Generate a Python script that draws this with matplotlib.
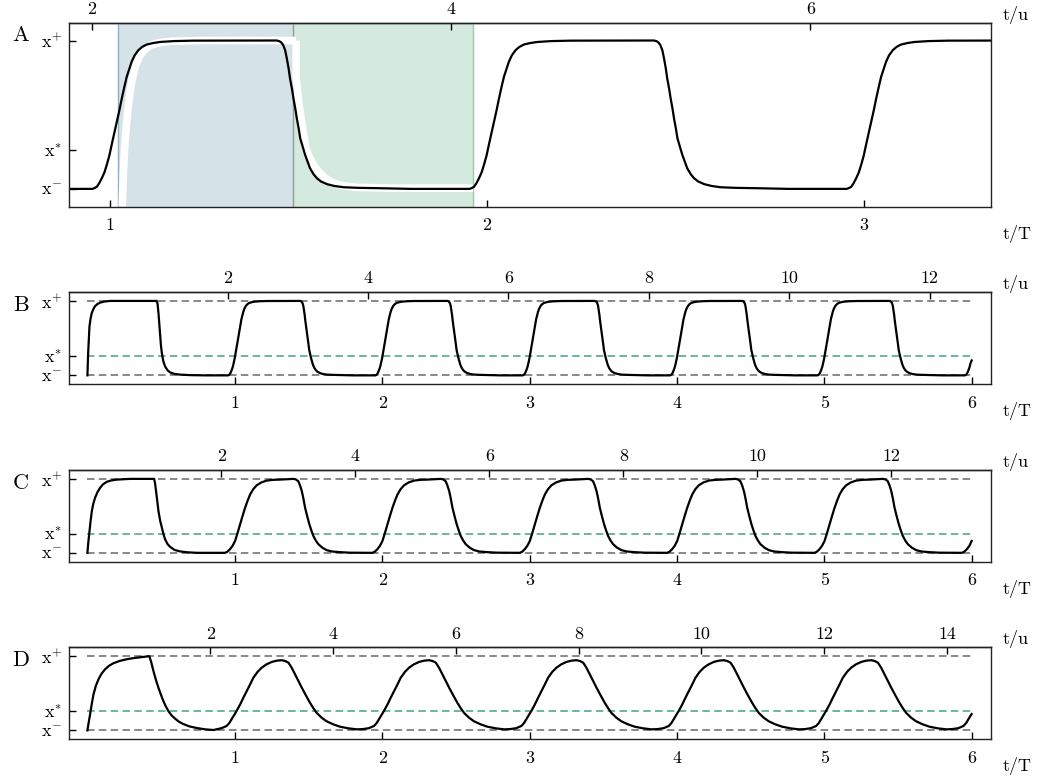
import numpy as np
import matplotlib.pyplot as plt

plt.rcParams['font.family'] = 'serif'
plt.rcParams['font.serif'] = ['cmr10']
plt.rcParams['mathtext.fontset'] = 'cm'
plt.rcParams['axes.unicode_minus'] = False
plt.rcParams['axes.formatter.use_mathtext'] = True
plt.rcParams['font.size'] = 13

# levels scaled so that x- = 0 and x+ = 1
levels = [0.0, 0.26, 1.0]
level_labels = [r'$\mathrm{x}^{-}$', r'$\mathrm{x}^{*}$', r'$\mathrm{x}^{+}$']

# period T in units of u (A is a close-up of the B run)
period_u = {'A': 2.1, 'B': 2.1, 'C': 2.2, 'D': 2.4}
u_ticks = {'A': [2, 4, 6], 'B': [2, 4, 6, 8, 10, 12],
           'C': [2, 4, 6, 8, 10, 12], 'D': [2, 4, 6, 8, 10, 12, 14]}
n_cycles = 5

# ---- run B: first period, one settled period (phase in t/T), end piece
t_B0 = [0.0, 0.005, 0.014, 0.022, 0.030, 0.040, 0.052, 0.068, 0.086, 0.115,
        0.154, 0.30, 0.470, 0.476, 0.482, 0.488, 0.493, 0.499, 0.505, 0.515,
        0.527, 0.543, 0.561, 0.59, 0.629, 0.70, 0.80]
x_B0 = [0.0, 0.30, 0.66, 0.77, 0.84, 0.89, 0.93, 0.958, 0.977, 0.992,
        1.0, 1.0, 1.0, 0.96, 0.84, 0.68, 0.53, 0.40, 0.30, 0.19,
        0.12, 0.07, 0.04, 0.02, 0.01, 0.003, 0.0]
ph_B = [-0.10, -0.046, -0.040, -0.034, -0.028, -0.021, -0.014, -0.008, -0.001,
        0.005, 0.012, 0.019, 0.026, 0.032, 0.039, 0.045, 0.052, 0.058, 0.066,
        0.076, 0.086, 0.098, 0.115, 0.133, 0.17, 0.222, 0.35, 0.443, 0.450,
        0.455, 0.460, 0.465, 0.4695, 0.474, 0.478, 0.483, 0.487, 0.492, 0.496,
        0.501, 0.505, 0.512, 0.518, 0.525, 0.531, 0.540, 0.549, 0.560, 0.576,
        0.595, 0.62, 0.66, 0.708, 0.80]
x_B = [0.0, 0.0, 0.006, 0.015, 0.038, 0.072, 0.112, 0.161, 0.225,
       0.296, 0.375, 0.453, 0.535, 0.61, 0.69, 0.755, 0.81, 0.856, 0.90,
       0.935, 0.957, 0.973, 0.983, 0.99, 0.996, 0.999, 1.0, 1.0, 0.995,
       0.986, 0.968, 0.935, 0.879, 0.815, 0.744, 0.675, 0.61, 0.54, 0.475,
       0.405, 0.341, 0.28, 0.229, 0.18, 0.139, 0.10, 0.072, 0.05, 0.032,
       0.02, 0.011, 0.007, 0.005, 0.0]
t_B1 = [5.90, 5.954, 5.960, 5.966, 5.972, 5.979, 5.986, 5.992, 6.0]
x_B1 = [0.0, 0.0, 0.006, 0.015, 0.038, 0.072, 0.112, 0.161, 0.20]

# ---- run C
t_C0 = [0.0, 0.006, 0.014, 0.022, 0.030, 0.040, 0.052, 0.068, 0.086, 0.105,
        0.131, 0.16, 0.20, 0.29, 0.4526, 0.459, 0.466, 0.474, 0.482, 0.493,
        0.505, 0.515, 0.527, 0.543, 0.561, 0.59, 0.629, 0.68, 0.742]
x_C0 = [0.0, 0.14, 0.296, 0.44, 0.565, 0.665, 0.745, 0.82, 0.879, 0.925,
        0.96, 0.978, 0.99, 1.0, 1.0, 0.94, 0.833, 0.70, 0.565, 0.44,
        0.341, 0.26, 0.184, 0.12, 0.081, 0.04, 0.019, 0.007, 0.0]
ph_C = [-0.128, -0.066, -0.05, -0.032, -0.015, 0.002, 0.019, 0.036, 0.053,
        0.070, 0.087, 0.104, 0.125, 0.149, 0.18, 0.217, 0.26, 0.307, 0.36,
        0.398, 0.415, 0.431, 0.443, 0.455, 0.466, 0.477, 0.492, 0.506, 0.52,
        0.533, 0.55, 0.567, 0.594, 0.624, 0.66, 0.714, 0.78]
x_C = [0.0, 0.0, 0.015, 0.05, 0.095, 0.16, 0.27, 0.386, 0.50,
       0.61, 0.705, 0.789, 0.86, 0.914, 0.952, 0.977, 0.987, 0.99, 0.995,
       1.0, 0.992, 0.968, 0.91, 0.833, 0.73, 0.61, 0.49, 0.386, 0.30,
       0.229, 0.165, 0.117, 0.07, 0.036, 0.018, 0.009, 0.002]
t_C1 = [5.872, 5.934, 5.95, 5.968, 5.985, 6.0]
x_C1 = [0.0, 0.0, 0.015, 0.05, 0.095, 0.16]

# ---- run D
t_D0 = [0.0, 0.008, 0.018, 0.028, 0.041, 0.057, 0.075, 0.096, 0.12, 0.146,
        0.176, 0.22, 0.267, 0.31, 0.358, 0.39, 0.42, 0.433, 0.448, 0.465,
        0.482, 0.499, 0.516, 0.533, 0.55, 0.572, 0.595, 0.62, 0.651, 0.69,
        0.742, 0.80, 0.855]
x_D0 = [0.0, 0.10, 0.213, 0.34, 0.484, 0.60, 0.688, 0.765, 0.824, 0.87,
        0.905, 0.937, 0.959, 0.974, 0.986, 0.993, 1.0, 0.92, 0.80, 0.68,
        0.574, 0.48, 0.393, 0.32, 0.258, 0.20, 0.159, 0.118, 0.086, 0.055,
        0.032, 0.014, 0.005]
ph_D = [-0.09, -0.055, -0.037, -0.01, 0.013, 0.036, 0.058, 0.081, 0.104,
        0.126, 0.155, 0.183, 0.215, 0.251, 0.285, 0.319, 0.342, 0.364, 0.386,
        0.409, 0.432, 0.455, 0.483, 0.511, 0.533, 0.556, 0.59, 0.624, 0.67,
        0.714, 0.77, 0.828, 0.87]
x_D = [0.03, 0.06, 0.10, 0.19, 0.265, 0.349, 0.44, 0.53, 0.62,
       0.71, 0.79, 0.846, 0.89, 0.923, 0.94, 0.946, 0.935, 0.913, 0.845,
       0.756, 0.665, 0.574, 0.47, 0.37, 0.30, 0.235, 0.17, 0.122, 0.08,
       0.05, 0.028, 0.014, 0.018]
t_D1 = [5.91, 5.945, 5.963, 5.99, 6.0]
x_D1 = [0.03, 0.06, 0.10, 0.19, 0.22]

# ---- close-up A: shaded intervals and the approximate (white) solution
spans_A = [(1.023, 1.487), (1.487, 1.963)]
t_W1 = [1.033, 1.036, 1.040, 1.045, 1.050, 1.058, 1.068, 1.080, 1.095, 1.11,
        1.13, 1.16, 1.25, 1.40, 1.494]
x_W1 = [-0.12, 0.10, 0.30, 0.45, 0.58, 0.72, 0.83, 0.90, 0.945, 0.97,
        0.985, 0.995, 1.0, 1.0, 1.0]
t_W2 = [1.494, 1.494, 1.500, 1.506, 1.513, 1.520, 1.530, 1.540, 1.553, 1.570,
        1.593, 1.62, 1.66, 1.75, 1.963]
x_W2 = [1.0, 0.75, 0.60, 0.50, 0.38, 0.274, 0.21, 0.16, 0.117, 0.075,
        0.04, 0.02, 0.01, 0.005, 0.005]


def trajectory(t0, x0, phase, xc, t1, x1):
    ts, xs = [np.asarray(t0)], [np.asarray(x0)]
    for k in range(1, n_cycles + 1):
        ts.append(k + np.asarray(phase))
        xs.append(np.asarray(xc))
    ts.append(np.asarray(t1))
    xs.append(np.asarray(x1))
    return np.concatenate(ts), np.concatenate(xs)


runs = {
    'B': trajectory(t_B0, x_B0, ph_B, x_B, t_B1, x_B1),
    'C': trajectory(t_C0, x_C0, ph_C, x_C, t_C1, x_C1),
    'D': trajectory(t_D0, x_D0, ph_D, x_D, t_D1, x_D1),
}
runs['A'] = runs['B']

W, H = 1039, 776
fig = plt.figure(figsize=(W / 100, H / 100), dpi=100)

# axes boxes in pixels: (top, bottom)
boxes = {'A': (22.7, 206.7), 'B': (292, 384.3), 'C': (470, 561.7), 'D': (647.3, 739.3)}
left_px, right_px = 69, 990.5

grey = '#747474'
green = '#55aa82'

for name in ['A', 'B', 'C', 'D']:
    top, bot = boxes[name]
    ax = fig.add_axes([left_px / W, 1 - bot / H, (right_px - left_px) / W, (bot - top) / H])
    t, x = runs[name]
    k = period_u[name]

    if name == 'A':
        ax.set_xlim(0.892, 3.335)
        ax.axvspan(*spans_A[0], facecolor='#d5e3e9', edgecolor='none', zorder=0)
        ax.axvspan(*spans_A[1], facecolor='#d4eadf', edgecolor='none', zorder=0)
        ax.axvline(spans_A[0][0], color='#8fb1c2', lw=1, zorder=0.5)
        ax.axvline(spans_A[0][1], color='#8f9e9c', lw=1, zorder=0.5)
        ax.axvline(spans_A[1][1], color='#93cba8', lw=1, zorder=0.5)
        ax.plot(t_W1, x_W1, color='white', lw=5.5, solid_capstyle='butt', zorder=1)
        ax.plot(t_W2, x_W2, color='white', lw=5.5, solid_capstyle='butt', zorder=1)
        ax.set_xticks([1, 2, 3], labels=['1', '2', '3'])
    else:
        ax.set_xlim(-0.125, 6.128)
        ls = (0, (4.5, 2.6))
        ax.hlines([levels[0], levels[2]], 0, 6, colors=grey, lw=1.2, linestyles=[ls], zorder=1)
        ax.hlines(levels[1], 0, 6, colors=green, lw=1.2, linestyles=[ls], zorder=1)
        ax.set_xticks([1, 2, 3, 4, 5, 6], labels=[str(v) for v in range(1, 7)])

    ax.plot(t, x, color='black', lw=1.6, zorder=2, solid_joinstyle='round')
    ax.set_ylim(-0.12, 1.12)
    ax.set_yticks(levels, labels=level_labels)

    ax.tick_params(axis='both', direction='in', length=5, width=1, labelsize=13)
    ax.tick_params(axis='x', top=False, pad=8)
    ax.tick_params(axis='y', pad=5)
    for sp in ax.spines.values():
        sp.set_linewidth(1.0)
        sp.set_color('#222222')

    sec = ax.secondary_xaxis('top', functions=(lambda v, k=k: v * k, lambda v, k=k: v / k))
    sec.set_xticks(u_ticks[name], labels=[str(v) for v in u_ticks[name]])
    sec.tick_params(direction='in', length=5, width=1, labelsize=13, pad=4)
    sec.spines['top'].set_linewidth(1.0)
    sec.spines['top'].set_color('#222222')

    ax.annotate('t/u', xy=(1, 1), xycoords='axes fraction', xytext=(12, 8),
                textcoords='offset pixels', ha='left', va='center', fontsize=13)
    ax.annotate('t/T', xy=(1, 0), xycoords='axes fraction', xytext=(12, -27),
                textcoords='offset pixels', ha='left', va='center', fontsize=13)
    fig.text(21 / W, 1 - (top + 13) / H, name, ha='center', va='center', fontsize=16)

fig.savefig('out.png', dpi=100)
